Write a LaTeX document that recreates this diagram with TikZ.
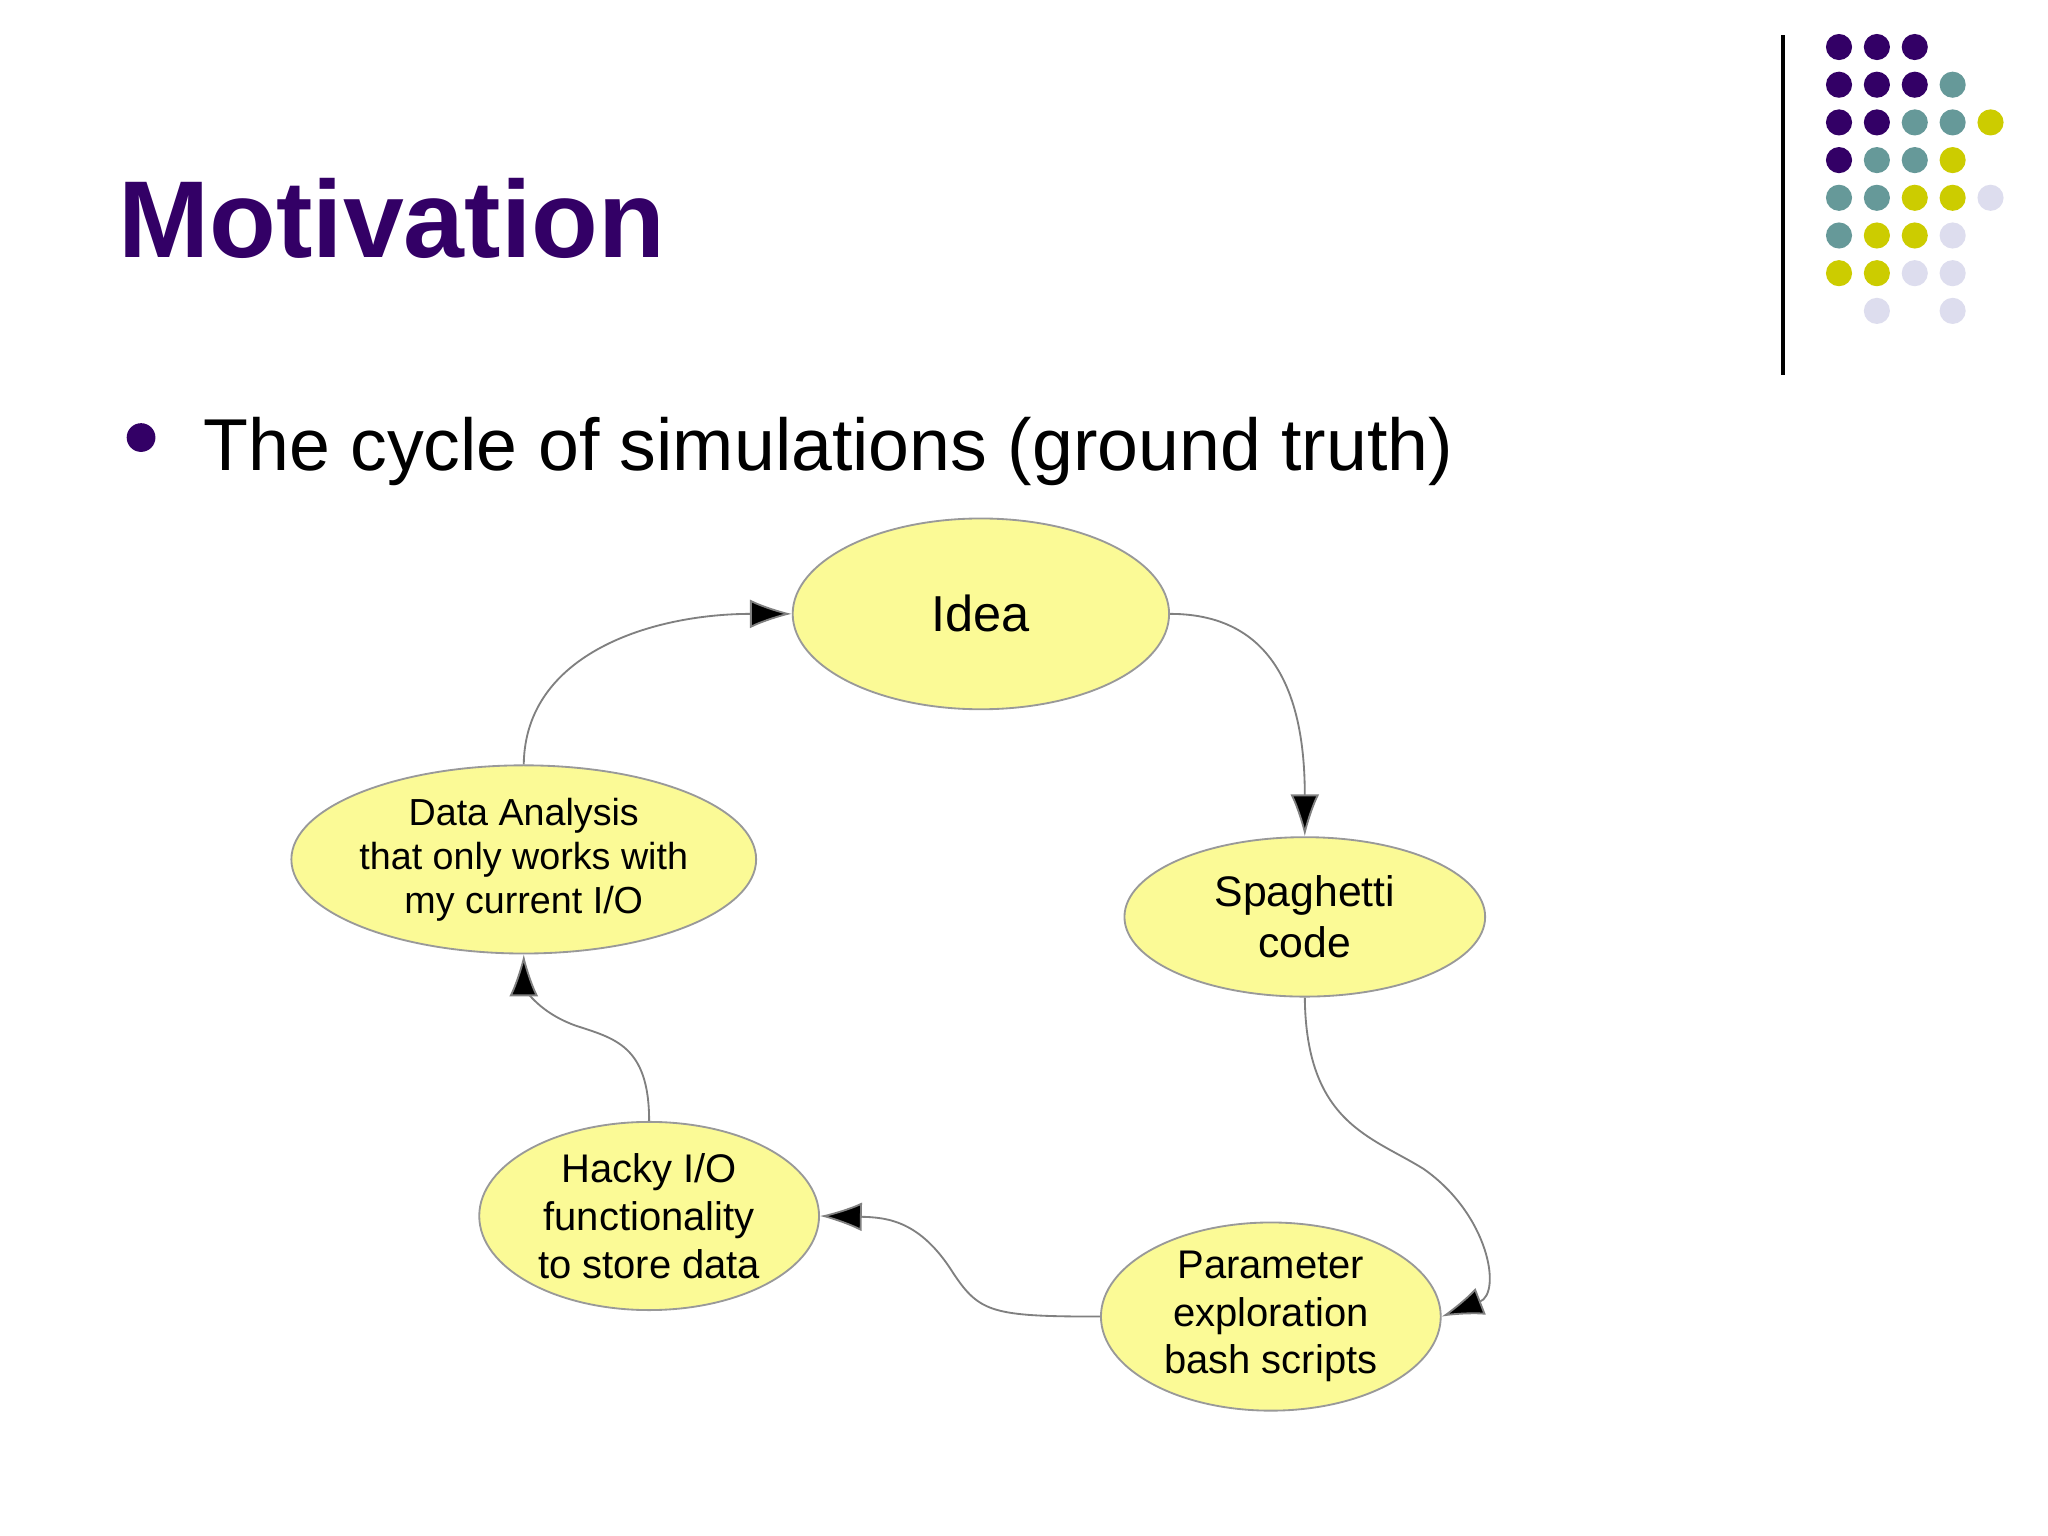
\documentclass[tikz,border=0pt]{standalone}
\usepackage{fontspec}
\setmainfont{Liberation Sans}
\usetikzlibrary{shapes.geometric,arrows.meta}
\definecolor{pur}{HTML}{330066}
\definecolor{teal}{HTML}{669999}
\definecolor{yel}{HTML}{CCCC00}
\definecolor{lav}{HTML}{DDDDEE}
\definecolor{ell}{HTML}{FBFA96}
\tikzset{
 bub/.style={ellipse,draw=gray!80,line width=0.4pt,fill=ell,inner sep=0pt,align=center},
 con/.style={draw=gray,line width=0.4pt,-{Latex[length=0.32cm,width=0.22cm,fill=black]}},
 dot/.style={circle,inner sep=0pt,minimum size=0.2cm}
}
\begin{document}
\begin{tikzpicture}[x=0.01cm,y=-0.01cm]
\useasboundingbox[fill=white] (0,0) rectangle (1568,1176);
\node[anchor=base west,inner sep=0pt,text=pur,font=\fontsize{23.8}{26}\selectfont\bfseries] (title) at (90,197) {Motivation};
\fill[pur] (108,335) circle (11);
\node[anchor=base west,inner sep=0pt,font=\fontsize{16}{19}\selectfont] (bul) at (155,360) {The cycle of simulations (ground truth)};
\draw[line width=1pt] (1365,27) -- (1365,287);
\foreach \r/\row in {1/{pur,pur,pur,,},2/{pur,pur,pur,teal,},3/{pur,pur,teal,teal,yel},4/{pur,teal,teal,yel,},5/{teal,teal,yel,yel,lav},6/{teal,yel,yel,lav,},7/{yel,yel,lav,lav,},8/{,lav,,lav,}}{
 \foreach \c [count=\i] in \row {
  \ifx\c\empty\else
   \fill[\c] ({1408+(\i-1)*29},{36+(\r-1)*28.86}) circle (10);
  \fi
 }
}
\node[bub,minimum width=2.88cm,minimum height=1.46cm,font=\fontsize{11}{13}\selectfont] (idea) at (751,470) {Idea};
\node[bub,minimum width=2.76cm,minimum height=1.22cm,font=\fontsize{9.3}{11}\selectfont] (spag) at (999,702) {Spaghetti\\code};
\node[bub,minimum width=2.6cm,minimum height=1.44cm,font=\fontsize{8.7}{10.4}\selectfont] (param) at (973,1008) {Parameter\\exploration\\bash scripts};
\node[bub,minimum width=2.6cm,minimum height=1.44cm,font=\fontsize{8.7}{10.4}\selectfont] (hack) at (497,931) {Hacky I/O\\functionality\\to store data};
\node[bub,minimum width=2.6cm,minimum height=1.44cm,font=\fontsize{8.2}{9.6}\selectfont] (data) at (401,658) {Data Analysis\\that only works with\\my current I/O};
\draw[con] (idea.east) .. controls (980,470) and (999,540) .. (spag.north);
\draw[con] (spag.south) .. controls (1000,860) and (1050,870) .. (1090,895) .. controls (1140,930) and (1150,990) .. (param.east);
\draw[con] (param.west) .. controls (760,1008) and (750,1005) .. (730,975) .. controls (705,935) and (680,932) .. (hack.east);
\draw[con] (hack.north) .. controls (497,800) and (470,795) .. (440,785) .. controls (405,772) and (401,750) .. (data.south);
\draw[con] (data.north) .. controls (402,500) and (500,470) .. (idea.west);
\end{tikzpicture}
\end{document}
